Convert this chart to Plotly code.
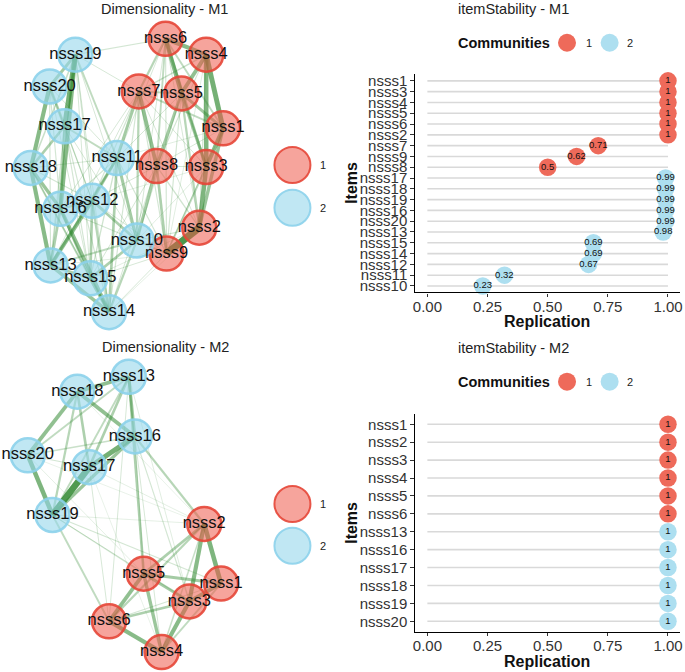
import plotly.graph_objects as go

W, H = 685, 672
FONT = "Arial, Liberation Sans, sans-serif"

# ---------------- Data ----------------
# Network M1: node layout (qgraph-like coordinates) and community
m1_nodes = ["nsss1", "nsss2", "nsss3", "nsss4", "nsss5", "nsss6", "nsss7", "nsss8", "nsss9", "nsss10",
            "nsss11", "nsss12", "nsss13", "nsss14", "nsss15", "nsss16", "nsss17", "nsss18", "nsss19", "nsss20"]
m1_x = [1.00, 0.753, 0.825, 0.825, 0.567, 0.402, 0.124, 0.309, 0.412, 0.103,
        -0.103, -0.361, -0.794, -0.186, -0.381, -0.691, -0.649, -1.00, -0.536, -0.804]
m1_y = [0.345, -0.382, 0.062, 0.884, 0.600, 1.000, 0.615, 0.069, -0.571, -0.476,
        0.127, -0.185, -0.658, -1.000, -0.753, -0.244, 0.360, 0.055, 0.884, 0.651]
m1_comm = [1, 1, 1, 1, 1, 1, 1, 1, 1, 2, 2, 2, 2, 2, 2, 2, 2, 2, 2, 2]
m1_edges = [
    ("nsss2", "nsss9", 0.9), ("nsss1", "nsss4", 0.6), ("nsss3", "nsss4", 0.55), ("nsss1", "nsss3", 0.5),
    ("nsss2", "nsss3", 0.55), ("nsss1", "nsss2", 0.4), ("nsss4", "nsss6", 0.5), ("nsss5", "nsss6", 0.5),
    ("nsss4", "nsss5", 0.45), ("nsss5", "nsss1", 0.35), ("nsss5", "nsss3", 0.35), ("nsss6", "nsss3", 0.3),
    ("nsss6", "nsss7", 0.25), ("nsss7", "nsss8", 0.45), ("nsss5", "nsss8", 0.35), ("nsss7", "nsss11", 0.35),
    ("nsss8", "nsss10", 0.35), ("nsss8", "nsss9", 0.3), ("nsss7", "nsss10", 0.25), ("nsss5", "nsss2", 0.25),
    ("nsss6", "nsss8", 0.2), ("nsss7", "nsss1", 0.2), ("nsss3", "nsss9", 0.2), ("nsss7", "nsss5", 0.2),
    ("nsss6", "nsss1", 0.2), ("nsss4", "nsss7", 0.15),
    ("nsss19", "nsss17", 0.6), ("nsss19", "nsss16", 0.5), ("nsss20", "nsss18", 0.5), ("nsss19", "nsss20", 0.35),
    ("nsss17", "nsss18", 0.3), ("nsss18", "nsss13", 0.5), ("nsss18", "nsss16", 0.4), ("nsss16", "nsss14", 0.45),
    ("nsss13", "nsss12", 0.45), ("nsss13", "nsss14", 0.4), ("nsss15", "nsss14", 0.4), ("nsss13", "nsss15", 0.3),
    ("nsss12", "nsss15", 0.3), ("nsss12", "nsss10", 0.3), ("nsss11", "nsss10", 0.35), ("nsss11", "nsss12", 0.3),
    ("nsss16", "nsss13", 0.3), ("nsss16", "nsss12", 0.25), ("nsss11", "nsss13", 0.3), ("nsss10", "nsss15", 0.3),
    ("nsss17", "nsss16", 0.3), ("nsss20", "nsss17", 0.3), ("nsss11", "nsss14", 0.3), ("nsss10", "nsss14", 0.25),
    ("nsss19", "nsss11", 0.2), ("nsss17", "nsss11", 0.2), ("nsss12", "nsss14", 0.25), ("nsss18", "nsss15", 0.2),
    ("nsss16", "nsss15", 0.25), ("nsss10", "nsss9", 0.2), ("nsss13", "nsss10", 0.2),
    ("nsss19", "nsss6", 0.1), ("nsss19", "nsss7", 0.08), ("nsss19", "nsss12", 0.1), ("nsss19", "nsss13", 0.1),
    ("nsss19", "nsss15", 0.08), ("nsss19", "nsss10", 0.08), ("nsss20", "nsss16", 0.1), ("nsss20", "nsss12", 0.08),
    ("nsss20", "nsss13", 0.1), ("nsss20", "nsss11", 0.08), ("nsss17", "nsss12", 0.12), ("nsss17", "nsss13", 0.12),
    ("nsss17", "nsss14", 0.1), ("nsss17", "nsss15", 0.1), ("nsss17", "nsss10", 0.08), ("nsss18", "nsss12", 0.1),
    ("nsss18", "nsss14", 0.1), ("nsss18", "nsss11", 0.08), ("nsss16", "nsss10", 0.1), ("nsss16", "nsss11", 0.1),
    ("nsss11", "nsss15", 0.12), ("nsss11", "nsss8", 0.1), ("nsss11", "nsss6", 0.08), ("nsss11", "nsss5", 0.08),
    ("nsss11", "nsss9", 0.1), ("nsss12", "nsss9", 0.08), ("nsss12", "nsss8", 0.08), ("nsss10", "nsss2", 0.1),
    ("nsss10", "nsss5", 0.1), ("nsss10", "nsss6", 0.08), ("nsss14", "nsss9", 0.08), ("nsss14", "nsss8", 0.08),
    ("nsss14", "nsss7", 0.1), ("nsss15", "nsss9", 0.08), ("nsss15", "nsss8", 0.08), ("nsss13", "nsss9", 0.06),
    ("nsss13", "nsss7", 0.08), ("nsss12", "nsss7", 0.1), ("nsss16", "nsss7", 0.08), ("nsss6", "nsss9", 0.1),
    ("nsss6", "nsss2", 0.08), ("nsss4", "nsss8", 0.1), ("nsss4", "nsss2", 0.1), ("nsss5", "nsss9", 0.1),
    ("nsss7", "nsss9", 0.1), ("nsss7", "nsss2", 0.08), ("nsss7", "nsss3", 0.08), ("nsss8", "nsss2", 0.12),
    ("nsss8", "nsss3", 0.1), ("nsss1", "nsss9", 0.08), ("nsss1", "nsss8", 0.08), ("nsss4", "nsss9", 0.06),
    ("nsss3", "nsss10", 0.06), ("nsss1", "nsss11", 0.06), ("nsss15", "nsss2", 0.06), ("nsss14", "nsss2", 0.05),
    ("nsss12", "nsss3", 0.05), ("nsss19", "nsss18", 0.15), ("nsss20", "nsss15", 0.08), ("nsss19", "nsss14", 0.08),
]

# Network M2
m2_nodes = ["nsss1", "nsss2", "nsss3", "nsss4", "nsss5", "nsss6",
            "nsss13", "nsss16", "nsss17", "nsss18", "nsss19", "nsss20"]
m2_x = [1.00, 0.826, 0.672, 0.385, 0.200, -0.159, 0.046, 0.108, -0.364, -0.487, -0.744, -1.00]
m2_y = [-0.502, -0.069, -0.632, -1.000, -0.430, -0.776, 1.000, 0.567, 0.343, 0.892, -0.004, 0.430]
m2_comm = [1, 1, 1, 1, 1, 1, 2, 2, 2, 2, 2, 2]
m2_edges = [
    ("nsss13", "nsss18", 0.45), ("nsss18", "nsss16", 0.45), ("nsss18", "nsss20", 0.45), ("nsss20", "nsss19", 0.55),
    ("nsss17", "nsss19", 0.8), ("nsss16", "nsss17", 0.6), ("nsss16", "nsss19", 0.4), ("nsss13", "nsss16", 0.35),
    ("nsss13", "nsss17", 0.3), ("nsss18", "nsss17", 0.3), ("nsss18", "nsss19", 0.25), ("nsss13", "nsss19", 0.2),
    ("nsss20", "nsss16", 0.15), ("nsss20", "nsss13", 0.2), ("nsss20", "nsss17", 0.1),
    ("nsss2", "nsss1", 0.55), ("nsss2", "nsss3", 0.5), ("nsss3", "nsss4", 0.5), ("nsss1", "nsss3", 0.45),
    ("nsss6", "nsss4", 0.5), ("nsss5", "nsss6", 0.45), ("nsss5", "nsss4", 0.4), ("nsss5", "nsss1", 0.35),
    ("nsss5", "nsss3", 0.35), ("nsss6", "nsss3", 0.3), ("nsss5", "nsss2", 0.3), ("nsss6", "nsss2", 0.25),
    ("nsss4", "nsss1", 0.2), ("nsss4", "nsss2", 0.15), ("nsss6", "nsss1", 0.1),
    ("nsss16", "nsss2", 0.25), ("nsss13", "nsss5", 0.3), ("nsss19", "nsss6", 0.2), ("nsss19", "nsss1", 0.1),
    ("nsss19", "nsss3", 0.08), ("nsss19", "nsss5", 0.1), ("nsss16", "nsss3", 0.1), ("nsss16", "nsss4", 0.08),
    ("nsss13", "nsss6", 0.08), ("nsss13", "nsss3", 0.06), ("nsss17", "nsss2", 0.05), ("nsss17", "nsss6", 0.08),
    ("nsss20", "nsss5", 0.05), ("nsss20", "nsss2", 0.04), ("nsss18", "nsss2", 0.04), ("nsss19", "nsss2", 0.05),
    ("nsss17", "nsss4", 0.04), ("nsss16", "nsss5", 0.08),
]

# Item stability M1
s1_items = ["nsss1", "nsss3", "nsss4", "nsss5", "nsss6", "nsss2", "nsss7", "nsss9", "nsss8", "nsss17",
            "nsss18", "nsss19", "nsss16", "nsss20", "nsss13", "nsss15", "nsss14", "nsss12", "nsss11", "nsss10"]
s1_values = [1, 1, 1, 1, 1, 1, 0.71, 0.62, 0.5, 0.99, 0.99, 0.99, 0.99, 0.99, 0.98, 0.69, 0.69, 0.67, 0.32, 0.23]
s1_comm = [1, 1, 1, 1, 1, 1, 1, 1, 1, 2, 2, 2, 2, 2, 2, 2, 2, 2, 2, 2]

# Item stability M2
s2_items = ["nsss1", "nsss2", "nsss3", "nsss4", "nsss5", "nsss6", "nsss13", "nsss16", "nsss17", "nsss18", "nsss19", "nsss20"]
s2_values = [1, 1, 1, 1, 1, 1, 1, 1, 1, 1, 1, 1]
s2_comm = [1, 1, 1, 1, 1, 1, 2, 2, 2, 2, 2, 2]

x_ticks = [0.0, 0.25, 0.5, 0.75, 1.0]
x_ticklabels = ["0.00", "0.25", "0.50", "0.75", "1.00"]

# ---------------- Styles ----------------
NODE_FILL = {1: "rgba(238,90,75,0.55)", 2: "rgba(150,215,235,0.6)"}
NODE_LINE = {1: "rgba(230,70,55,0.9)", 2: "rgba(140,210,235,0.9)"}
DOT_COL = {1: "#EE6A5A", 2: "#ADDFF0"}

fig = go.Figure()


def px2paper_x(p):
    return p / W


def px2paper_y(p):
    return 1 - p / H


def add_network(nodes, xs, ys, comm, edges, xa, ya):
    idx = {n: i for i, n in enumerate(nodes)}
    for a, b, w in sorted(edges, key=lambda e: e[2]):
        i, j = idx[a], idx[b]
        alpha = min(0.85, 0.12 + 0.9 * w)
        fig.add_trace(go.Scatter(
            x=[xs[i], xs[j]], y=[ys[i], ys[j]], mode="lines",
            line=dict(color=f"rgba(45,135,45,{alpha:.3f})", width=0.4 + 7.5 * w),
            hoverinfo="skip", showlegend=False, xaxis=xa, yaxis=ya))
    for c in (1, 2):
        sel = [k for k in range(len(nodes)) if comm[k] == c]
        fig.add_trace(go.Scatter(
            x=[xs[k] for k in sel], y=[ys[k] for k in sel], mode="markers",
            marker=dict(size=34, color=NODE_FILL[c], line=dict(color=NODE_LINE[c], width=2.5)),
            cliponaxis=False, hoverinfo="skip", showlegend=False, xaxis=xa, yaxis=ya))
    fig.add_trace(go.Scatter(
        x=xs, y=ys, mode="text", text=nodes, textposition="middle center",
        textfont=dict(family=FONT, size=16.5, color="#111"),
        cliponaxis=False, hoverinfo="skip", showlegend=False, xaxis=xa, yaxis=ya))


def add_stability(items, vals, comm, xa, ya):
    gx, gy = [], []
    for it in items:
        gx += [0, 1, None]
        gy += [it, it, None]
    fig.add_trace(go.Scatter(x=gx, y=gy, mode="lines", line=dict(color="#d9d9d9", width=1.6),
                             hoverinfo="skip", showlegend=False, xaxis=xa, yaxis=ya))
    for c in (1, 2):
        sel = [k for k in range(len(items)) if comm[k] == c]
        fig.add_trace(go.Scatter(
            x=[vals[k] for k in sel], y=[items[k] for k in sel], mode="markers+text",
            text=[f"{vals[k]:g}" for k in sel], textposition="middle center",
            textfont=dict(family=FONT, size=9.5, color="#111"),
            marker=dict(size=17.5, color=DOT_COL[c]),
            cliponaxis=False, showlegend=False, xaxis=xa, yaxis=ya))


add_network(m1_nodes, m1_x, m1_y, m1_comm, m1_edges, "x", "y")
add_network(m2_nodes, m2_x, m2_y, m2_comm, m2_edges, "x2", "y2")
add_stability(s1_items, s1_values, s1_comm, "x3", "y3")
add_stability(s2_items, s2_values, s2_comm, "x4", "y4")

# Legend keys drawn on a pixel overlay axis
leg_net = [(292, 164, 1), (292, 207, 2), (292, 505, 1), (292, 547, 2)]
for (lx, ly, c) in leg_net:
    fig.add_trace(go.Scatter(x=[lx], y=[ly], mode="markers",
                             marker=dict(size=36, color=NODE_FILL[c], line=dict(color=NODE_LINE[c], width=2)),
                             hoverinfo="skip", showlegend=False, xaxis="x5", yaxis="y5"))
leg_dot = [(569, 41, 1), (612, 41, 2), (569, 382, 1), (612, 382, 2)]
for (lx, ly, c) in leg_dot:
    fig.add_trace(go.Scatter(x=[lx], y=[ly], mode="markers",
                             marker=dict(size=18, color=DOT_COL[c]),
                             hoverinfo="skip", showlegend=False, xaxis="x5", yaxis="y5"))

hidden = dict(visible=False, showgrid=False, zeroline=False)
dot_x = dict(range=[-0.05, 1.05], tickmode="array", tickvals=x_ticks, ticktext=x_ticklabels,
             showgrid=False, zeroline=False, ticklabeloverflow="allow", ticklabelstandoff=-3,
             showline=True, linecolor="black", linewidth=1.2, ticks="outside", ticklen=3, tickcolor="#333",
             tickfont=dict(family=FONT, size=15, color="#333"))
dot_y = dict(type="category", showgrid=False, zeroline=False, showline=True, linecolor="black", linewidth=1.2,
             ticks="outside", ticklen=4, tickcolor="#333", tickfont=dict(family=FONT, size=15, color="#333"))

fig.update_layout(
    width=W, height=H, margin=dict(l=0, r=0, t=0, b=0), autosize=False,
    paper_bgcolor="white", plot_bgcolor="rgba(0,0,0,0)",
    xaxis=dict(domain=[0, 250 / W], range=[-1.289, 1.289], **hidden),
    yaxis=dict(domain=[(H - 330) / H, (H - 15) / H], range=[-1.131, 1.16], **hidden),
    xaxis2=dict(domain=[0, 250 / W], range=[-1.256, 1.308], **hidden),
    yaxis2=dict(domain=[0, (H - 355) / H], range=[-1.13, 1.159], **hidden),
    xaxis3=dict(domain=[416 / W, 683 / W], anchor="y3", **dot_x),
    yaxis3=dict(domain=[(H - 292.2) / H, (H - 72.8) / H], anchor="x3",
                categoryorder="array", categoryarray=s1_items,
                tickmode="array", tickvals=s1_items, ticktext=s1_items,
                range=[len(s1_items) - 0.4, -0.6], **dot_y),
    xaxis4=dict(domain=[416 / W, 683 / W], anchor="y4", **dot_x),
    yaxis4=dict(domain=[(H - 633.8) / H, (H - 414) / H], anchor="x4",
                categoryorder="array", categoryarray=s2_items,
                tickmode="array", tickvals=s2_items, ticktext=s2_items,
                range=[len(s2_items) - 0.4, -0.6], **dot_y),
    xaxis5=dict(domain=[0, 1], range=[0, W], anchor="y5", **hidden),
    yaxis5=dict(domain=[0, 1], range=[H, 0], anchor="x5", **hidden),
)

ann = []


def txt(s, x, y, size, bold=False, angle=0, color="#222"):
    ann.append(dict(text=f"<b>{s}</b>" if bold else s, x=px2paper_x(x), y=px2paper_y(y),
                    xref="paper", yref="paper", showarrow=False, xanchor="center", yanchor="middle",
                    textangle=angle, font=dict(family=FONT, size=size, color=color)))


txt("Dimensionality - M1", 163, 7, 14.5)
txt("Dimensionality - M2", 164, 347.5, 14.5)
txt("itemStability - M1", 515, 7.5, 14.5)
txt("itemStability - M2", 515, 348.5, 14.5)
txt("Communities", 505, 41, 14.5, bold=True, color="#111")
txt("Communities", 505, 382, 14.5, bold=True, color="#111")
for y in (41, 382):
    txt("1", 591, y, 11)
    txt("2", 633, y, 11)
for (y1, y2) in ((164, 207), (505, 547)):
    txt("1", 323, y1, 11)
    txt("2", 323, y2, 11)
txt("Items", 352, 182, 16, bold=True, angle=-90, color="#111")
txt("Items", 352, 524, 16, bold=True, angle=-90, color="#111")
txt("Replication", 549, 321, 16, bold=True, color="#111")
txt("Replication", 549, 663, 16, bold=True, color="#111")
fig.update_layout(annotations=ann)

fig.write_html("out.html", config={"displayModeBar": False},
               post_script="document.body.style.margin='0';document.body.style.overflow='hidden';")
